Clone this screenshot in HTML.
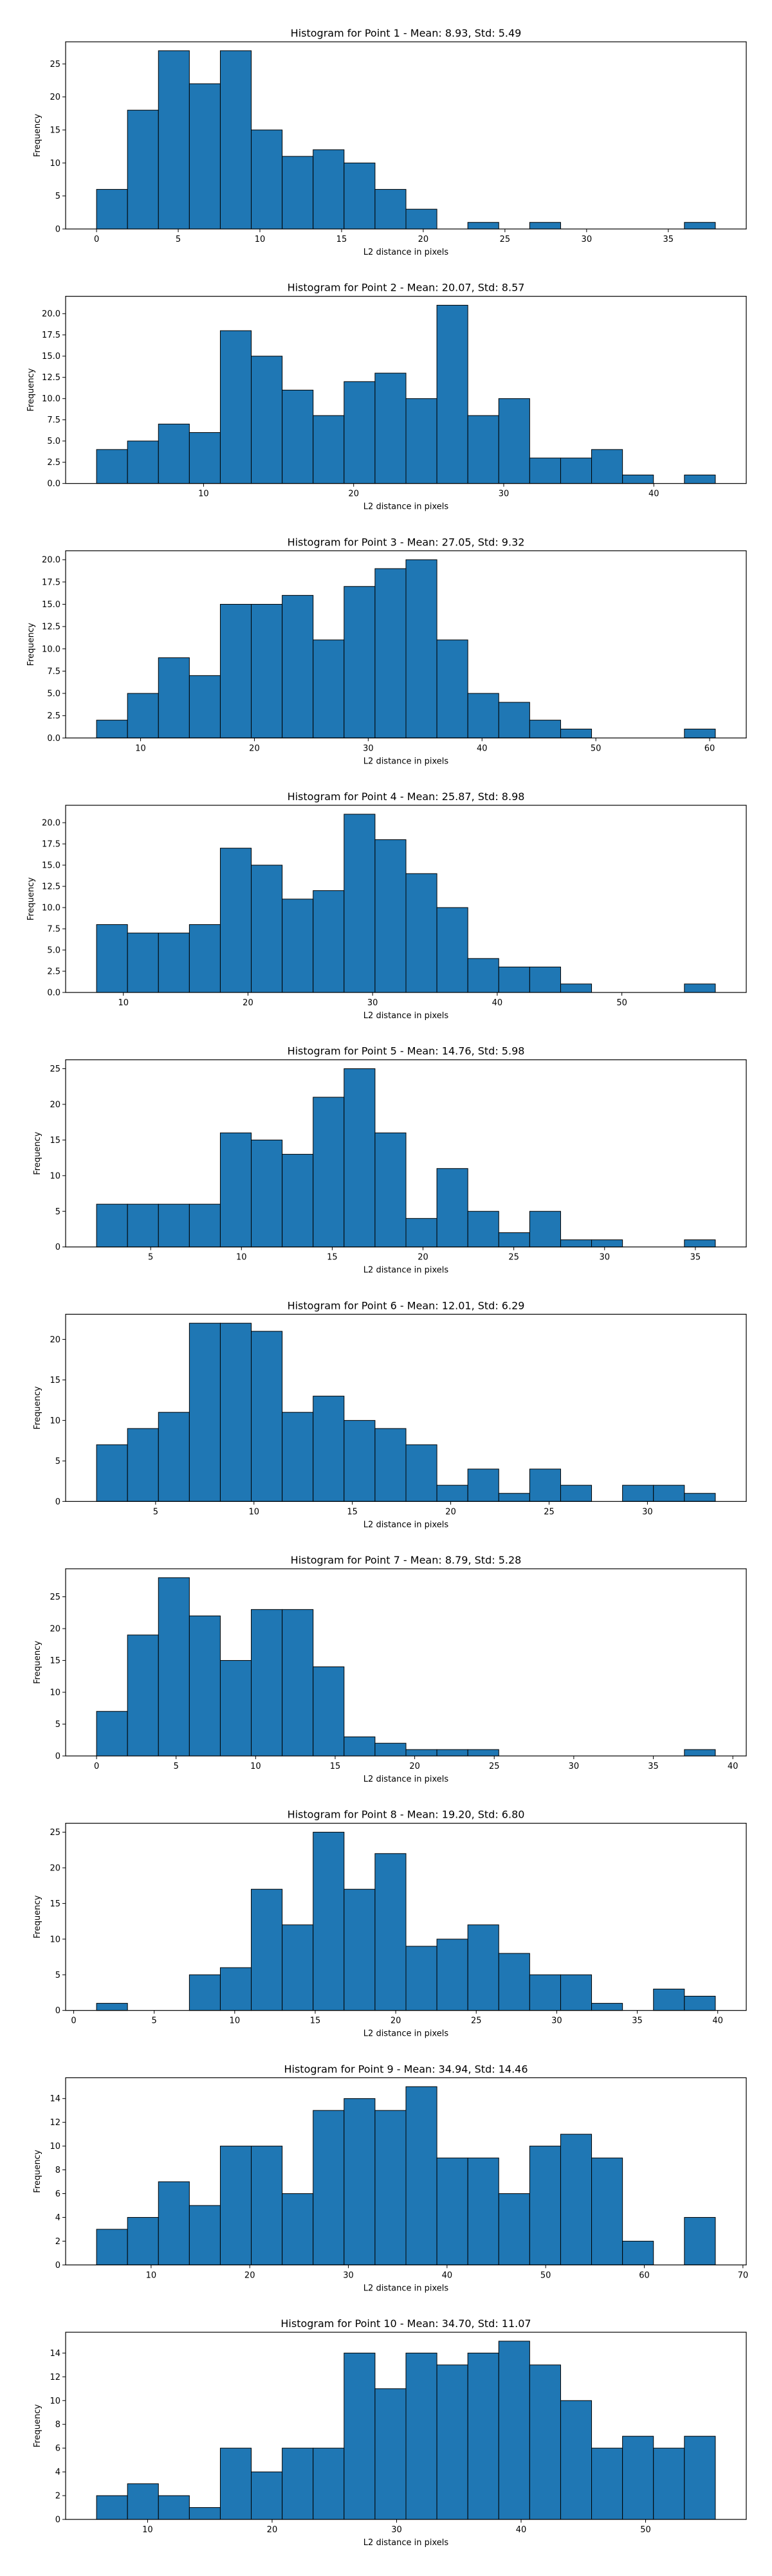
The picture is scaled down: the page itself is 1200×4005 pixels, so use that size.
<!DOCTYPE html>
<html><head><meta charset="utf-8"><style>
body{margin:0;background:#fff;width:1200px;height:4000px;overflow:hidden}
svg text{font-family:"DejaVu Sans","Liberation Sans",sans-serif;fill:#000}
</style></head><body>
<svg id="fig" width="1200" height="4000" xmlns="http://www.w3.org/2000/svg"></svg>
<script>
const titles = ["Histogram for Point 1 - Mean: 8.93, Std: 5.49","Histogram for Point 2 - Mean: 20.07, Std: 8.57","Histogram for Point 3 - Mean: 27.05, Std: 9.32","Histogram for Point 4 - Mean: 25.87, Std: 8.98","Histogram for Point 5 - Mean: 14.76, Std: 5.98","Histogram for Point 6 - Mean: 12.01, Std: 6.29","Histogram for Point 7 - Mean: 8.79, Std: 5.28","Histogram for Point 8 - Mean: 19.20, Std: 6.80","Histogram for Point 9 - Mean: 34.94, Std: 14.46","Histogram for Point 10 - Mean: 34.70, Std: 11.07"];
const binMins = [0, 2.87, 6.13, 7.85, 2.02, 2.0, 0, 1.42, 4.47, 5.9];
const binMaxs = [37.88, 44.1, 60.5, 57.5, 36.1, 33.45, 38.9, 39.85, 67.2, 55.6];
const counts1 = [6,18,27,22,27,15,11,12,10,6,3,0,1,0,1,0,0,0,0,1];
const counts2 = [4,5,7,6,18,15,11,8,12,13,10,21,8,10,3,3,4,1,0,1];
const counts3 = [2,5,9,7,15,15,16,11,17,19,20,11,5,4,2,1,0,0,0,1];
const counts4 = [8,7,7,8,17,15,11,12,21,18,14,10,4,3,3,1,0,0,0,1];
const counts5 = [6,6,6,6,16,15,13,21,25,16,4,11,5,2,5,1,1,0,0,1];
const counts6 = [7,9,11,22,22,21,11,13,10,9,7,2,4,1,4,2,0,2,2,1];
const counts7 = [7,19,28,22,15,23,23,14,3,2,1,1,1,0,0,0,0,0,0,1];
const counts8 = [1,0,0,5,6,17,12,25,17,22,9,10,12,8,5,5,1,0,3,2];
const counts9 = [3,4,7,5,10,10,6,13,14,13,15,9,9,6,10,11,9,2,0,4];
const counts10 = [2,3,2,1,6,4,6,6,14,11,14,13,14,15,13,10,6,7,6,7];
const allCounts = [counts1,counts2,counts3,counts4,counts5,counts6,counts7,counts8,counts9,counts10];
const xTicks = [[0,5,10,15,20,25,30,35],[10,20,30,40],[10,20,30,40,50,60],[10,20,30,40,50],[5,10,15,20,25,30,35],[5,10,15,20,25,30],[0,5,10,15,20,25,30,35,40],[0,5,10,15,20,25,30,35,40],[10,20,30,40,50,60,70],[10,20,30,40,50]];
const yTickSteps = [5,2.5,2.5,2.5,5,5,5,5,2,2];
const yTickDecimals = [0,1,1,1,0,0,0,0,0,0];

const NS="http://www.w3.org/2000/svg";
const svg=document.getElementById('fig');
function mk(tag,attrs,parent){const e=document.createElementNS(NS,tag);for(const k in attrs)e.setAttribute(k,attrs[k]);(parent||svg).appendChild(e);return e;}
const L=102,R=1160,H=291;
for(let p=0;p<10;p++){
  const top=65+395.67*p, bot=top+H;
  const g=mk('g',{});
  
  
  const counts=allCounts[p], mn=binMins[p], mx=binMaxs[p];
  const span=mx-mn, x0=mn-0.05*span, x1=mx+0.05*span;
  const sx=v=>L+(v-x0)/(x1-x0)*(R-L);
  const ymax=Math.max(...counts)*1.05;
  const sy=v=>bot-v/ymax*H;
  const n=counts.length, bw=span/n;
  counts.forEach((c,i)=>{
    const a=sx(mn+i*bw), b=sx(mn+(i+1)*bw);
    const r=mk('rect',{x:a,y:sy(c),width:b-a,height:bot-sy(c),fill:'#1f77b4',stroke:'#000','stroke-width':1},g);
    
    
  });
  // frame
  const fr=mk('rect',{x:L,y:top,width:R-L,height:H,fill:'none',stroke:'#000','stroke-width':1.2},g);
  
  
  // x ticks
  xTicks[p].forEach(t=>{
    const x=sx(t);
    mk('line',{x1:x,x2:x,y1:bot,y2:bot+5,stroke:'#000','stroke-width':1},g);
    const tx=mk('text',{x:x,y:bot+20,'text-anchor':'middle','font-size':13},g);
    tx.textContent=t;
    
    
  });
  // y ticks
  const st=yTickSteps[p];
  for(let v=0;v<=ymax+1e-9;v+=st){
    const y=sy(v);
    mk('line',{x1:L-5,x2:L,y1:y,y2:y,stroke:'#000','stroke-width':1},g);
    const ty=mk('text',{x:L-8,y:y+4.5,'text-anchor':'end','font-size':13},g);
    ty.textContent=v.toFixed(yTickDecimals[p]);
    
    
  }
  const tt=mk('text',{x:(L+R)/2,y:top-8,'text-anchor':'middle','font-size':16},g);
  tt.textContent=titles[p];
  
  
  const xl=mk('text',{x:(L+R)/2,y:bot+40,'text-anchor':'middle','font-size':13},g);
  xl.textContent='L2 distance in pixels';
  
  
  const yx=(p===1||p===2||p===3)?52:62;
  const yl=mk('text',{x:yx,y:top+H/2,'text-anchor':'middle','font-size':13,transform:`rotate(-90 ${yx} ${top+H/2})`},g);
  yl.textContent='Frequency';
  
  
}
</script>
</body></html>
